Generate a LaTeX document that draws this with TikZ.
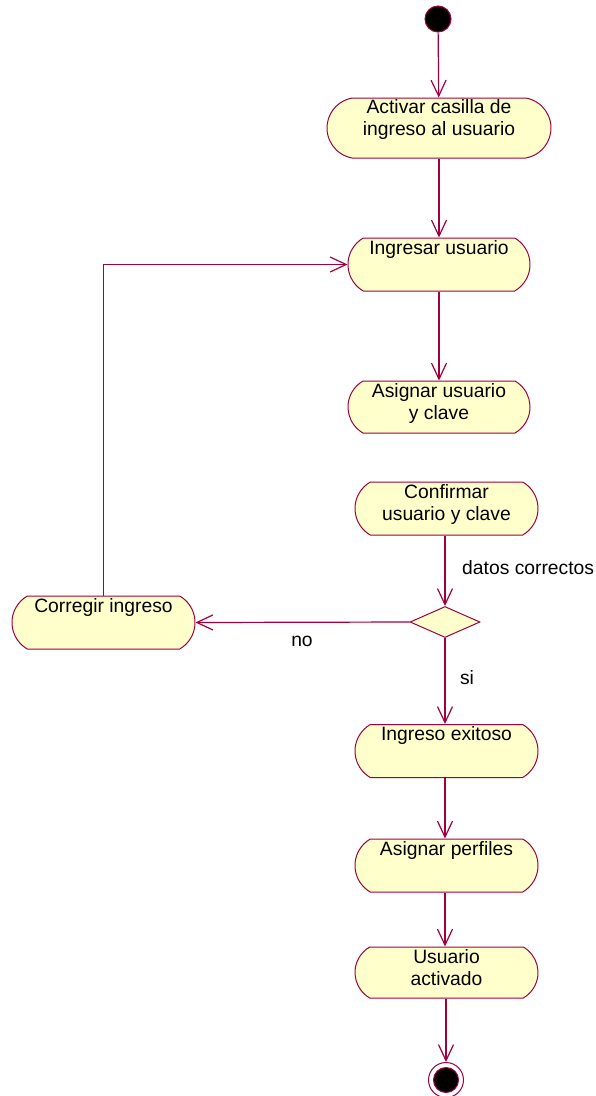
\documentclass[tikz,border=0pt]{standalone}
\usepackage{fontspec}
\setmainfont{Liberation Sans}
\usetikzlibrary{shapes.misc,shapes.geometric,arrows.meta}
\definecolor{umlline}{RGB}{160,0,64}
\definecolor{umlfill}{RGB}{255,255,204}
\tikzset{
  activity/.style={draw=umlline, fill=umlfill, line width=1pt,
    rounded rectangle, rounded rectangle arc length=120,
    minimum width=183pt, minimum height=53pt, inner sep=0pt},
  txt/.style={anchor=base, inner sep=0pt, text=black,
    font=\fontsize{19.3}{22}\selectfont},
  flow/.style={draw=umlline, line width=1.2pt,
    -{Straight Barb[length=16pt,width=15pt,line width=1.2pt]}},
  decision/.style={draw=umlline, fill=umlfill, line width=1pt, diamond,
    minimum width=70pt, minimum height=31pt, inner sep=0pt},
  startdot/.style={circle, draw=umlline, fill=black, line width=1pt,
    minimum size=26pt, inner sep=0pt},
  enddot/.style={circle, draw=umlline, fill=black, line width=1pt,
    minimum size=25pt, inner sep=0pt},
  endring/.style={circle, draw=umlline, fill=white, line width=1pt,
    minimum size=35pt, inner sep=0pt},
}
\newcommand{\lines}[1]{\begin{tabular}[t]{@{}c@{}}#1\end{tabular}}
\begin{document}
\begin{tikzpicture}[x=1pt,y=-1pt]
\useasboundingbox (0,0) rectangle (596,1096);

% start
\node[startdot] (start) at (438,19) {};

% activities
\node[activity, minimum width=224pt, minimum height=60pt,
      rounded rectangle arc length=160] (act) at (439,128) {};
\node[txt] (actT) at (439,113) {\lines{Activar casilla de\\ingreso al usuario}};

\node[activity, minimum width=182pt] (ing) at (439,264.5) {};
\node[txt] (ingT) at (439,254) {Ingresar usuario};

\node[activity, minimum width=182pt, minimum height=52pt] (asig) at (439,407) {};
\node[txt] (asigT) at (439,397) {\lines{Asignar usuario\\y clave}};

\node[activity] (conf) at (446.5,508.5) {};
\node[txt] (confT) at (446.5,498) {\lines{Confirmar\\usuario y clave}};

\node[decision] (dec) at (445,622) {};

\node[activity] (corr) at (103.5,622.5) {};
\node[txt] (corrT) at (103.5,612) {Corregir ingreso};

\node[activity] (exit) at (446.5,751) {};
\node[txt] (exitT) at (446.5,740.5) {Ingreso exitoso};

\node[activity] (perf) at (446.5,865.5) {};
\node[txt] (perfT) at (446.5,855) {Asignar perfiles};

\node[activity, minimum height=51pt] (usr) at (446.5,972.5) {};
\node[txt] (usrT) at (446.5,963) {\lines{Usuario\\activado}};

% end
\node[endring] (endR) at (446,1080) {};
\node[enddot] (endD) at (446,1080) {};

% flows
\draw[flow] (start) -- (act);
\draw[flow] (act) -- (ing);
\draw[flow] (ing) -- (asig);
\draw[flow] (conf.south -| dec.north) -- (dec.north);
\draw[flow] (dec.west) -- (corr.east);
\draw[flow] (dec.south) -- (exit.north -| dec.south);
\draw[flow] (exit.south -| dec.south) -- (perf.north -| dec.south);
\draw[flow] (perf.south -| dec.south) -- (usr.north -| dec.south);
\draw[flow] (usr.south -| endR.north) -- (endR.north);
\draw[flow] (corr.north) |- (ing.west);

% guard labels
\node[txt, anchor=base west] (lblOk) at (462,574) {datos correctos};
\node[txt] (lblNo) at (302,646) {no};
\node[txt] (lblSi) at (467,684) {si};
\end{tikzpicture}
\end{document}
